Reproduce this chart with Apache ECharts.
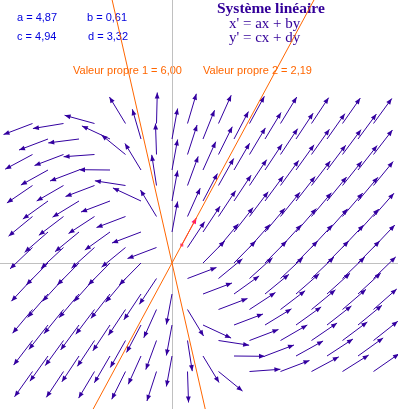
<!DOCTYPE html>
<html>
<head>
<meta charset="utf-8">
<script src="https://cdn.jsdelivr.net/npm/echarts@6/dist/echarts.min.js"></script>
<style>
  html, body { margin: 0; padding: 0; background: #fff; }
  #main { width: 398px; height: 409px; }
</style>
</head>
<body>
<div id="main"></div>
<script>
// coefficients du système  x' = ax + by , y' = cx + dy
var coefNames = ['a', 'b', 'c', 'd'];
var coefValues = [4.87, 0.61, 4.94, 3.32];
var eigenValues = [6.00, 2.19];
// points de la grille (un sur deux, en damier)
var gridCols = [-9, -8, -7, -6, -5, -4, -3, -2, -1, 0, 1, 2, 3, 4, 5, 6, 7, 8, 9, 10, 11, 12, 13];
var gridRows = [-7, -6, -5, -4, -3, -2, -1, 0, 1, 2, 3, 4, 5, 6, 7, 8, 9];
// vecteur propre mis en évidence (origine)
var pinkTail = [0.63, 1.16];

var A = coefValues[0], B = coefValues[1], C = coefValues[2], D = coefValues[3];
var unit = 15.5; // px par unité
var xMin = -172 / unit, xMax = 226 / unit;
var yMin = -146 / unit, yMax = 263 / unit;
var arrowLen = 2;

function fmt(v) { return v.toFixed(2).replace('.', ','); }

var field = [];
gridRows.forEach(function (j) {
  gridCols.forEach(function (i) {
    if ((i + j) % 2 !== 0) return;
    var vx = A * i + B * j, vy = C * i + D * j;
    var n = Math.sqrt(vx * vx + vy * vy);
    if (n === 0) return;
    field.push([i, j, vx / n, vy / n]);
  });
});

// droites propres
var eigenLines = eigenValues.map(function (l) {
  var slope = (l - A) / B;
  return [[yMax / slope, yMax], [yMin / slope, yMin]];
});
var pinkDir = (function () {
  var vx = B, vy = eigenValues[0] - A, n = Math.sqrt(vx * vx + vy * vy);
  return [vx / n, vy / n];
})();

function arrowItem(color) {
  return function (params, api) {
    var x = api.value(0), y = api.value(1), ux = api.value(2), uy = api.value(3);
    var p0 = api.coord([x, y]);
    var p1 = api.coord([x + arrowLen * ux, y + arrowLen * uy]);
    var dx = p1[0] - p0[0], dy = p1[1] - p0[1];
    var L = Math.sqrt(dx * dx + dy * dy);
    var ex = dx / L, ey = dy / L;
    var hl = 6, hw = 2.4;
    var bx = p1[0] - ex * hl, by = p1[1] - ey * hl;
    return {
      type: 'group',
      children: [{
        type: 'line',
        shape: { x1: p0[0], y1: p0[1], x2: p1[0], y2: p1[1] },
        style: { stroke: color, lineWidth: 1 }
      }, {
        type: 'polygon',
        shape: { points: [[p1[0], p1[1]], [bx - ey * hw, by + ex * hw], [bx + ey * hw, by - ex * hw]] },
        style: { fill: color }
      }]
    };
  };
}

var myChart = echarts.init(document.getElementById('main'));

var txt = function (x, y, text, font, color) {
  return { type: 'text', left: x, top: y, style: { text: text, font: font, fill: color } };
};

myChart.setOption({
  animation: false,
  grid: { left: 0, top: 0, width: 398, height: 409 },
  xAxis: {
    type: 'value', min: xMin, max: xMax,
    axisLine: { show: true, onZero: true, lineStyle: { color: '#c0c0c0', width: 1 } },
    axisTick: { show: false }, axisLabel: { show: false }, splitLine: { show: false }
  },
  yAxis: {
    type: 'value', min: yMin, max: yMax,
    axisLine: { show: true, onZero: true, lineStyle: { color: '#c0c0c0', width: 1 } },
    axisTick: { show: false }, axisLabel: { show: false }, splitLine: { show: false }
  },
  graphic: [
    txt(17, 12, coefNames[0] + ' = ' + fmt(coefValues[0]), '11px "Liberation Sans", Arial, sans-serif', '#0000dd'),
    txt(87, 12, coefNames[1] + ' = ' + fmt(coefValues[1]), '11px "Liberation Sans", Arial, sans-serif', '#0000dd'),
    txt(17, 31, coefNames[2] + ' = ' + fmt(coefValues[2]), '11px "Liberation Sans", Arial, sans-serif', '#0000dd'),
    txt(88, 31, coefNames[3] + ' = ' + fmt(coefValues[3]), '11px "Liberation Sans", Arial, sans-serif', '#0000dd'),
    txt(217, 1, 'Système linéaire', 'bold 15.5px "Liberation Serif", "Times New Roman", serif', '#330099'),
    txt(229, 17, "x' = ax + by", '15px "Liberation Serif", "Times New Roman", serif', '#330099'),
    txt(229, 31, "y' = cx + dy", '15px "Liberation Serif", "Times New Roman", serif', '#330099'),
    txt(73, 65, 'Valeur propre 1 = ' + fmt(eigenValues[0]), '11px "Liberation Sans", Arial, sans-serif', '#ff6600'),
    txt(203, 65, 'Valeur propre 2 = ' + fmt(eigenValues[1]), '11px "Liberation Sans", Arial, sans-serif', '#ff6600')
  ],
  series: [
    {
      type: 'line', data: eigenLines[0], symbol: 'none', silent: true,
      lineStyle: { color: '#ff6600', width: 1 }
    },
    {
      type: 'line', data: eigenLines[1], symbol: 'none', silent: true,
      lineStyle: { color: '#ff6600', width: 1 }
    },
    {
      type: 'custom', renderItem: arrowItem('#3300a0'), data: field, silent: true
    },
    {
      type: 'custom', renderItem: arrowItem('#ff0080'), silent: true,
      data: [[pinkTail[0], pinkTail[1], pinkDir[0], pinkDir[1]]]
    },
    {
      type: 'scatter', data: [pinkTail], symbol: 'rect', symbolSize: 3, silent: true,
      itemStyle: { color: '#ff0080' }
    }
  ]
});
</script>
</body>
</html>
